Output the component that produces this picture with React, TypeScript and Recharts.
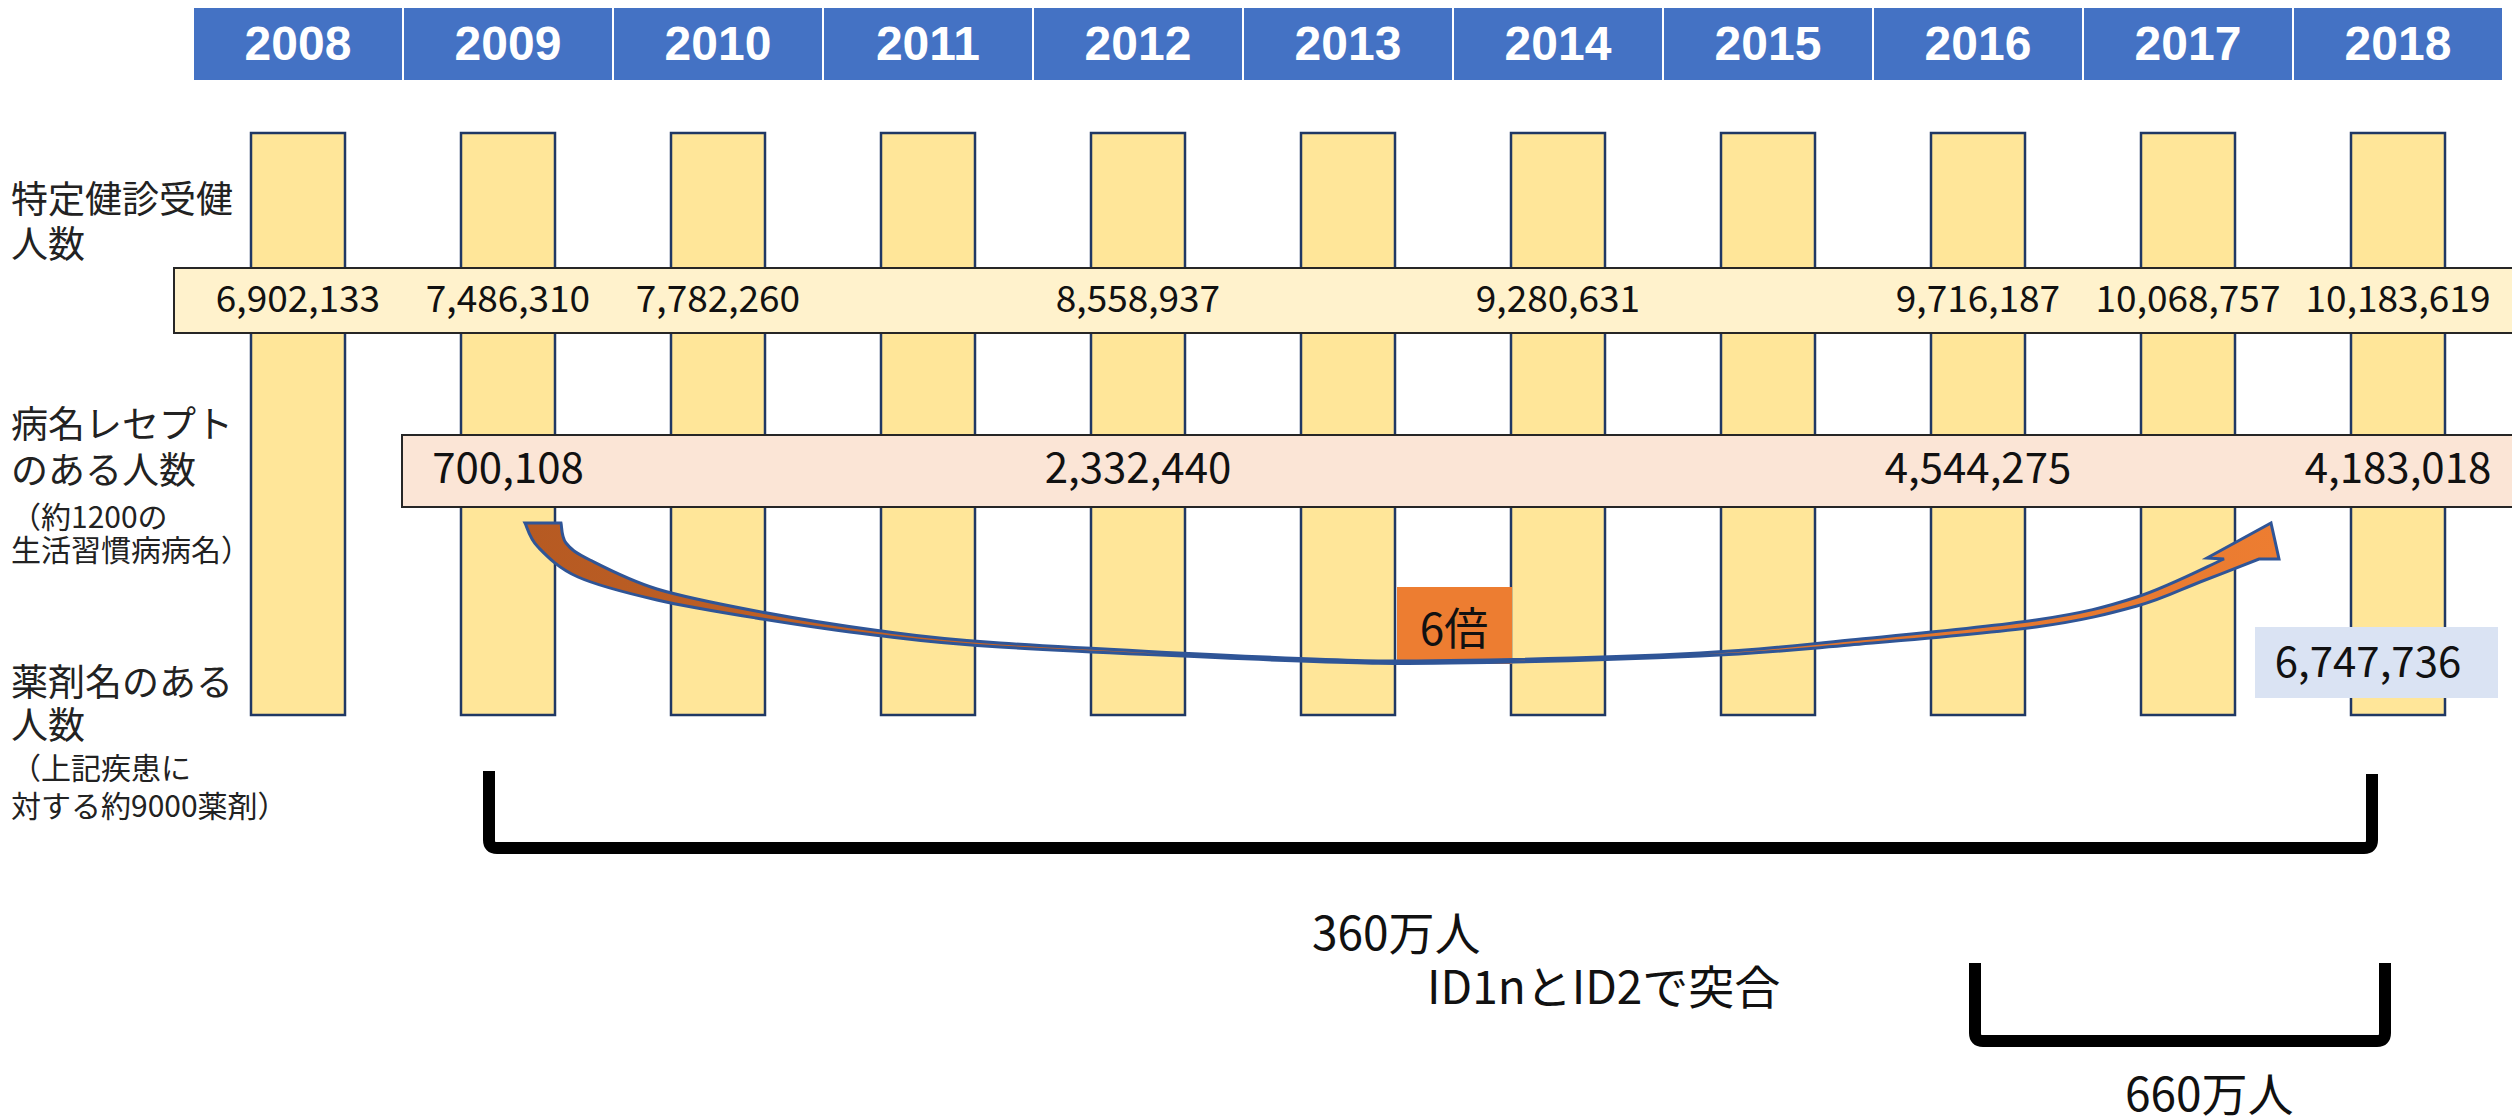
import {
  Bar,
  ComposedChart,
  Customized,
  Scatter,
  XAxis,
  YAxis,
} from 'recharts'

document.body.style.margin = '0'

// 年度ごとの人数（空欄は null）
const years = ['2008', '2009', '2010', '2011', '2012', '2013', '2014', '2015', '2016', '2017', '2018']
const checkups = [6902133, 7486310, 7782260, null, 8558937, null, 9280631, null, 9716187, 10068757, 10183619]
const diseasePatients = [null, 700108, null, null, 2332440, null, null, null, 4544275, null, 4183018]
const drugPatients = [null, null, null, null, null, null, null, null, null, null, 6747736]

const rowLabels = [
  { text: '特定健診受健', big: true },
  { text: '人数', big: true },
  { text: '病名レセプト', big: true },
  { text: 'のある人数', big: true },
  { text: '（約1200の', big: false },
  { text: '生活習慣病病名）', big: false },
  { text: '薬剤名のある', big: true },
  { text: '人数', big: true },
  { text: '（上記疾患に', big: false },
  { text: '対する約9000薬剤）', big: false },
]
const rowLabelBaselines = [213, 258, 438, 484, 528, 561, 696, 739, 779, 817]

const W = 2512
const H = 1119
const HEADER_H = 80
const COL_TOP = 133
const COL_BOTTOM = 715
const ROW1_Y = 312
const ROW2_Y = 483
const ROW3_Y = 677
const FONT_JP = '"Noto Sans CJK JP", "Noto Sans", sans-serif'

const rows = years.map((year, i) => ({
  year,
  checkups: checkups[i],
  disease: diseasePatients[i],
  drugs: drugPatients[i],
}))

const fmt = (n: number) => n.toLocaleString('en-US')

function YearTick({ x, payload }: any) {
  return (
    <g>
      <rect x={x - 104} y={8} width={208} height={72} fill="#4472C4" />
      <text x={x} y={60} textAnchor="middle" fill="#fff" fontSize={48} fontWeight={700} fontFamily="Liberation Sans, Arial, sans-serif">
        {payload.value}
      </text>
    </g>
  )
}

function valueShape(key: 'checkups' | 'disease', fontSize: number) {
  return (p: any) => {
    const v = p.payload?.[key]
    if (v == null) return <g />
    return (
      <text x={p.cx} y={p.cy} textAnchor="middle" fontSize={fontSize} fontFamily={FONT_JP} fill="#111">
        {fmt(v)}
      </text>
    )
  }
}

function DrugShape(p: any) {
  const v = p.payload?.drugs
  if (v == null) return <g />
  return (
    <g>
      <rect x={p.cx - 143} y={p.cy - 50} width={243} height={71} fill="#DAE3F3" />
      <text x={p.cx - 30} y={p.cy} textAnchor="middle" fontSize={42} fontFamily={FONT_JP} fill="#111">
        {fmt(v)}
      </text>
    </g>
  )
}

// catmull-rom -> bezier
function curve(pts: number[][], move: boolean) {
  let d = move ? `M${pts[0][0]},${pts[0][1]}` : `L${pts[0][0]},${pts[0][1]}`
  for (let i = 0; i < pts.length - 1; i++) {
    const p0 = pts[i - 1] ?? pts[i]
    const p1 = pts[i]
    const p2 = pts[i + 1]
    const p3 = pts[i + 2] ?? p2
    const c1 = [p1[0] + (p2[0] - p0[0]) / 6, p1[1] + (p2[1] - p0[1]) / 6]
    const c2 = [p2[0] - (p3[0] - p1[0]) / 6, p2[1] - (p3[1] - p1[1]) / 6]
    d += ` C${c1[0]},${c1[1]} ${c2[0]},${c2[1]} ${p2[0]},${p2[1]}`
  }
  return d
}

const arrowLower = [
  [525, 523], [538, 547], [578, 577], [657, 600], [756, 618], [874, 635], [1000, 647],
  [1300, 661], [1450, 663], [1700, 656], [1850, 645], [2036, 627], [2137, 606], [2200, 582], [2259, 559],
]
const arrowUpper = [
  [2224, 559], [2137, 597], [2036, 620], [1850, 640], [1700, 653], [1450, 660.5], [1300, 658.5],
  [1000, 643], [874, 630], [756, 611], [657, 589], [590, 560], [566, 543], [561, 523],
]

function Annotations() {
  const arrowPath =
    curve(arrowLower, true) +
    ' L2279,559 L2271,523 L2207,558 ' +
    curve(arrowUpper, false) +
    ' Z'
  return (
    <g>
      {/* 横帯（数値はScatterで上に載る） */}
      <rect x={174} y={268} width={W} height={65} fill="#FFF2CC" stroke="#262626" strokeWidth={2} />
      <rect x={402} y={435} width={W} height={72} fill="#FBE5D6" stroke="#262626" strokeWidth={2} />
      {rowLabels.map((l, i) => (
        <text key={i} x={11} y={rowLabelBaselines[i]} fontSize={l.big ? 37 : 30} fontFamily={FONT_JP} fill="#222">
          {l.text}
        </text>
      ))}
      <rect x={1397} y={587} width={115} height={77} fill="#ED7D31" />
      <text x={1454} y={645} textAnchor="middle" fontSize={44} fontFamily={FONT_JP} fill="#111">6倍</text>
      <defs>
        <linearGradient id="arrowFill" gradientUnits="userSpaceOnUse" x1={525} y1={0} x2={2280} y2={0}>
          <stop offset="0" stopColor="#B65A22" />
          <stop offset="0.45" stopColor="#CF6A2B" />
          <stop offset="1" stopColor="#ED7D31" />
        </linearGradient>
      </defs>
      <path d={arrowPath} fill="url(#arrowFill)" stroke="#2F5597" strokeWidth={3} strokeLinejoin="miter" />
      <path d="M489,771 L489,840 Q489,848 497,848 L2364,848 Q2372,848 2372,840 L2372,774" fill="none" stroke="#000" strokeWidth={12} />
      <path d="M1975,963 L1975,1033 Q1975,1041 1983,1041 L2377,1041 Q2385,1041 2385,1033 L2385,963" fill="none" stroke="#000" strokeWidth={12} />
      <text x={1312} y={950} fontSize={46} fontFamily={FONT_JP} fill="#111">360万人</text>
      <text x={1427} y={1004} fontSize={46} fontFamily={FONT_JP} fill="#111">ID1nとID2で突合</text>
      <text x={2125} y={1111} fontSize={46} fontFamily={FONT_JP} fill="#111">660万人</text>
    </g>
  )
}

export default function App() {
  return (
    <ComposedChart width={W} height={H} data={rows} margin={{ top: 0, right: 0, bottom: 0, left: 0 }}>
      <XAxis
        xAxisId="col"
        dataKey="year"
        orientation="top"
        height={HEADER_H}
        padding={{ left: 193, right: 9 }}
        axisLine={false}
        tickLine={false}
        interval={0}
        tick={<YearTick />}
      />
      <YAxis type="number" domain={[HEADER_H, H]} reversed allowDataOverflow hide />
      <Bar
        xAxisId="col"
        dataKey={() => [COL_BOTTOM, COL_TOP]}
        barSize={94}
        fill="#FFE699"
        stroke="#203864"
        strokeWidth={2.5}
        isAnimationActive={false}
        zIndex={-100}
      />
      <Customized component={<Annotations />} />
      <Scatter xAxisId="col" dataKey={() => ROW1_Y} shape={valueShape('checkups', 37)} isAnimationActive={false} />
      <Scatter xAxisId="col" dataKey={() => ROW2_Y} shape={valueShape('disease', 42)} isAnimationActive={false} />
      <Scatter xAxisId="col" dataKey={() => ROW3_Y} shape={DrugShape} isAnimationActive={false} />
    </ComposedChart>
  )
}
